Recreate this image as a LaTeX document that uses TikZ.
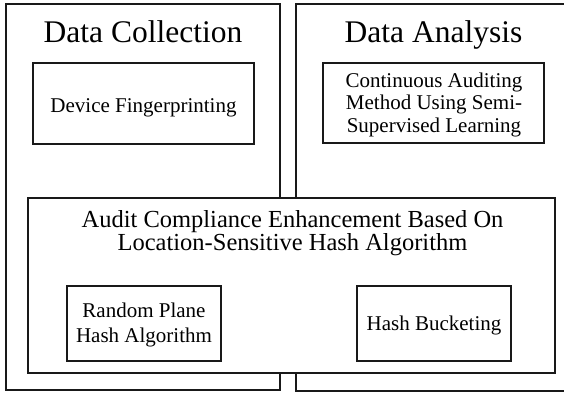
\documentclass[tikz,border=0pt]{standalone}
\usepackage{fontspec}
\setmainfont{Liberation Serif}
\begin{document}
\begin{tikzpicture}[x=1pt,y=-1pt,
  outerbox/.style={draw=black!90, line width=2pt, rectangle, inner sep=0pt},
  groupbox/.style={draw=black!90, line width=1.5pt, rectangle, fill=white, inner sep=0pt},
  itembox/.style={draw=black!90, line width=1.3pt, rectangle, fill=white, inner sep=0pt},
  itemtext/.style={inner sep=0pt, anchor=base, align=center, font=\fontsize{21}{22.5}\selectfont},
  heading/.style={inner sep=0pt, anchor=base, font=\fontsize{31.5}{34}\selectfont},
  subheading/.style={inner sep=0pt, anchor=base, align=center, font=\fontsize{24.5}{22.5}\selectfont}]
\useasboundingbox (0,0) rectangle (564,393);
\clip (0,0) rectangle (564,393);

% two stage panels
\node[outerbox, minimum width=274pt, minimum height=386pt] (collect) at (143,197) {};
\node[outerbox, minimum width=276pt, minimum height=387pt] (analysis) at (434,197.5) {};
\node[heading] (collecttitle) at (143,43) {Data Collection};
\node[heading] (analysistitle) at (433.5,43) {Data Analysis};

% methods of each stage (text placed by its last baseline)
\node[itembox, minimum width=221pt, minimum height=81pt] (finger) at (143.5,103.5) {};
\node[itemtext] (fingertext) at (143.5,112) {Device Fingerprinting};
\node[itembox, minimum width=221pt, minimum height=80pt] (semi) at (433.5,103) {};
\node[itemtext] (semitext) at (434,132) {Continuous Auditing\\Method Using Semi-\\Supervised Learning};

% shared compliance block spanning both panels
\node[groupbox, minimum width=527pt, minimum height=175pt] (lsh) at (291.5,285.5) {};
\node[subheading] (lshtitle) at (292.5,250) {Audit Compliance Enhancement Based On\\Location-Sensitive Hash Algorithm};
\node[itembox, minimum width=154pt, minimum height=75pt] (plane) at (144,323.5) {};
\node[itemtext, font=\fontsize{21}{25}\selectfont] (planetext) at (144,342) {Random Plane\\Hash Algorithm};
\node[itembox, minimum width=154pt, minimum height=75pt] (bucket) at (434,323.5) {};
\node[itemtext] (buckettext) at (434,330) {Hash Bucketing};
\end{tikzpicture}
\end{document}
